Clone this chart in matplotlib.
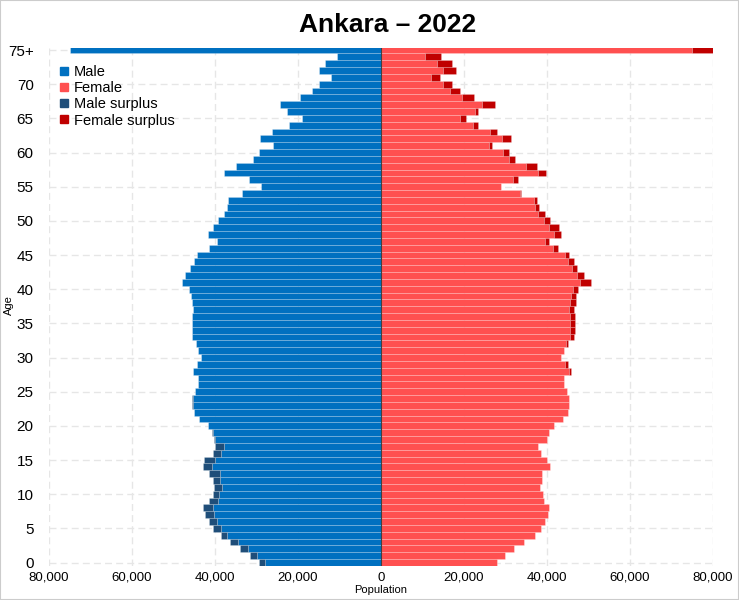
import matplotlib
matplotlib.use("Agg")
import matplotlib.pyplot as plt
from matplotlib.lines import Line2D
from matplotlib.patches import Rectangle
import numpy as np

plt.rcParams['font.family'] = ['Liberation Sans', 'DejaVu Sans']

title = "Ankara – 2022"
ages = list(range(76))
age_tick_labels = ["0", "5", "10", "15", "20", "25", "30", "35", "40", "45", "50", "55", "60", "65", "70", "75+"]
x_tick_values = [-80000, -60000, -40000, -20000, 0, 20000, 40000, 60000, 80000]
x_tick_labels = ["80,000", "60,000", "40,000", "20,000", "0", "20,000", "40,000", "60,000", "80,000"]

male = [29400, 31500, 33900, 36400, 38600, 40500, 41400, 42300, 42900, 41400,
        40600, 40200, 40600, 41500, 43000, 42600, 40600, 40000, 40200, 40700,
        41800, 43800, 45100, 45500, 45500, 44900, 44000, 44100, 45300, 44300,
        43400, 44200, 44600, 45500, 45600, 45600, 45500, 45200, 45500, 45800,
        46300, 47900, 47300, 46100, 45100, 44400, 41400, 39500, 41800, 40500,
        39300, 37800, 37200, 36800, 33600, 29000, 31900, 37900, 35000, 30800,
        29400, 26100, 29100, 26300, 22100, 19100, 22600, 24300, 19500, 16700,
        15000, 12100, 15000, 13500, 10500, 74900]

female = [27900, 29800, 32000, 34500, 37000, 38600, 39500, 40300, 40500, 39300,
          39100, 38200, 38700, 38800, 40800, 40000, 38500, 37800, 40000, 40600,
          41800, 43800, 45100, 45400, 45400, 44800, 44000, 44200, 45900, 45100,
          43400, 44000, 45000, 46500, 46800, 46700, 46800, 46500, 47000, 47000,
          47500, 50500, 48900, 47200, 46600, 45400, 42600, 40500, 43300, 42800,
          40800, 39600, 38100, 37600, 33700, 29000, 33000, 39700, 37500, 32300,
          30800, 26700, 31300, 27900, 23300, 20600, 23300, 27400, 22500, 19100,
          17200, 14200, 18100, 17100, 14400, 80100]

c_male = "#0070c0"
c_female = "#ff5050"
c_msur = "#1f4e79"
c_fsur = "#c00000"

W, H = 739, 600
fig = plt.figure(figsize=(W / 100, H / 100), dpi=100)
ax = fig.add_axes([49 / W, 1 - 566 / H, (713 - 49) / W, (566 - 48) / H])

m = np.array(male)
f = np.array(female)
a = np.array(ages)
common = np.minimum(m, f)
edge = (1, 1, 1, 0.25)

ax.barh(a, -common, height=1.0, color=c_male, edgecolor=edge, linewidth=0.5, zorder=2)
ax.barh(a, common, height=1.0, color=c_female, edgecolor=edge, linewidth=0.5, zorder=2)
msur = np.clip(m - f, 0, None)
fsur = np.clip(f - m, 0, None)
ax.barh(a, -msur, left=-common, height=1.0, color=c_msur, edgecolor=edge, linewidth=0.5, zorder=2)
ax.barh(a, fsur, left=common, height=1.0, color=c_fsur, edgecolor=edge, linewidth=0.5, zorder=2)
ax.axvline(0, color="#404040", linewidth=0.8, zorder=3)

ax.set_xlim(-80000, 80000)
ax.set_ylim(-0.5, 75.3)
ax.set_xticks(x_tick_values)
ax.set_xticklabels(x_tick_labels, fontsize=9.5)
ax.set_yticks(list(range(0, 76, 5)))
ax.set_yticklabels(age_tick_labels, fontsize=11)
ax.tick_params(axis="x", length=0, pad=4)
ax.tick_params(axis="y", length=0, pad=11)
for s in ax.spines.values():
    s.set_visible(False)
ax.grid(True, color="#e6e6e6", linestyle=(0, (5, 3)), linewidth=1.0, zorder=0)
ax.set_axisbelow(True)
ax.set_xlabel("Population", fontsize=8, labelpad=1)

fig.text(9 / W, 1 - 305 / H, "Age", rotation=90, ha="center", va="center", fontsize=8)
fig.text(388 / W, 1 - 25 / H, title, ha="center", va="center", fontsize=19, fontweight="bold")

handles = [Line2D([], [], linestyle="none", marker="s", markersize=6, color=c) for c in (c_male, c_female, c_msur, c_fsur)]
leg = ax.legend(handles, ["Male", "Female", "Male surplus", "Female surplus"],
                loc="upper left", bbox_to_anchor=(60 / W, 1 - 65 / H), bbox_transform=fig.transFigure,
                frameon=False, fontsize=10.5, handlelength=0.6, handletextpad=0.35,
                labelspacing=0.15, borderpad=0, borderaxespad=0)

fig.patches.append(Rectangle((0, 0), 1, 1, transform=fig.transFigure, fill=False,
                             edgecolor="#cccccc", linewidth=1.5))

fig.savefig("out.png", dpi=100)
